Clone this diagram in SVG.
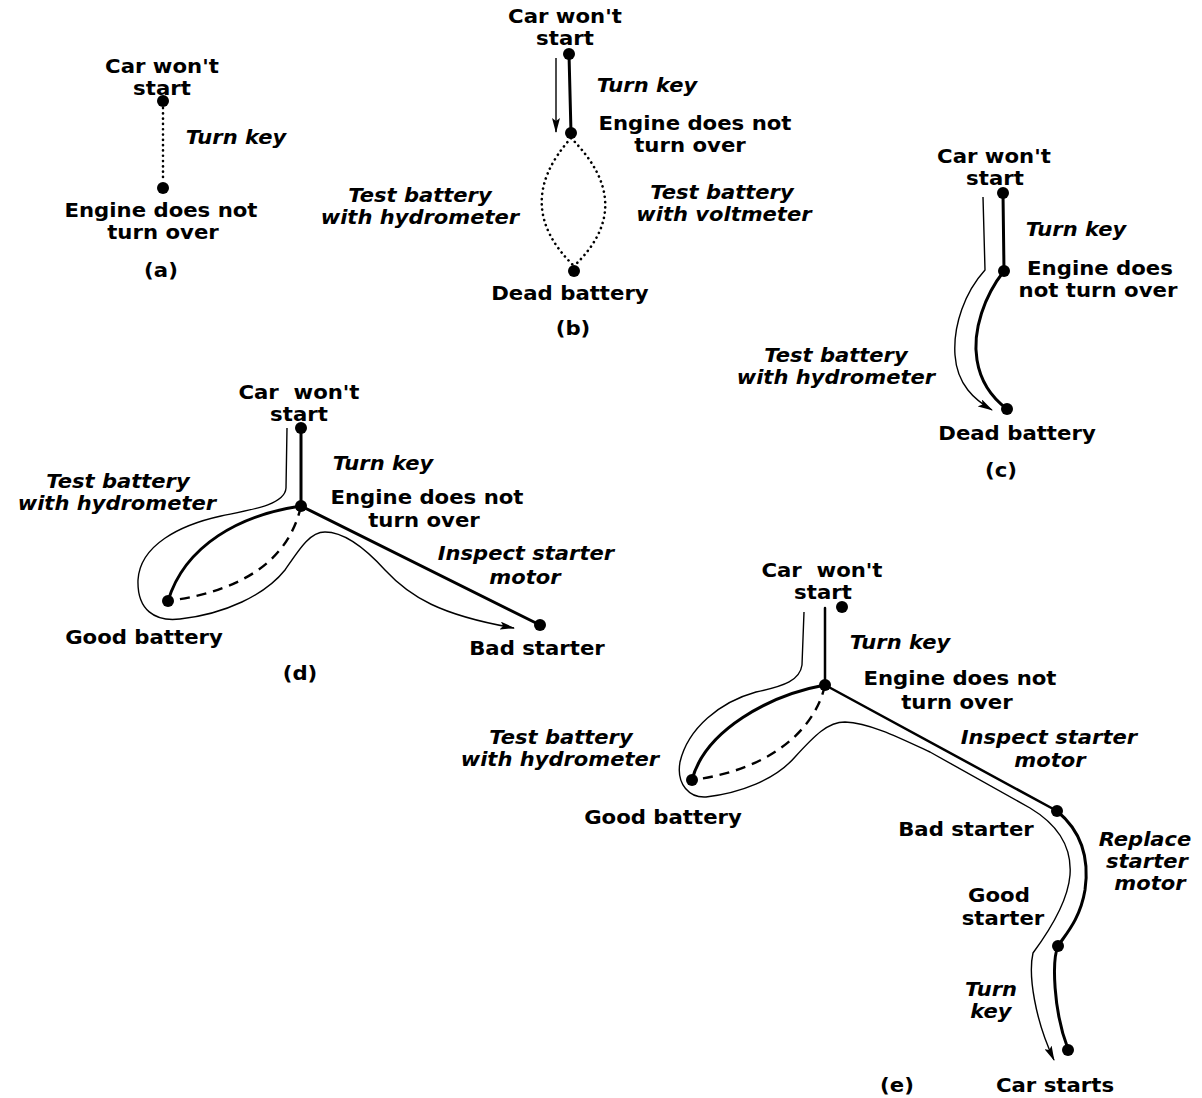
<svg xmlns="http://www.w3.org/2000/svg" width="1202" height="1098" viewBox="0 0 1202 1098">
<style>
text{font-family:"DejaVu Sans","Liberation Sans",sans-serif;font-weight:bold;font-size:18.8px;fill:#000;text-anchor:middle;transform-box:fill-box;transform-origin:center;transform:scaleX(1.13)}
text.i{font-style:italic;transform:scaleX(1.12)}
.dot{fill:#000}
.thick{fill:none;stroke:#000;stroke-width:3;stroke-linecap:round}
.med{fill:none;stroke:#000;stroke-width:2.5;stroke-linecap:round}
.thin{fill:none;stroke:#000;stroke-width:1.4}
.dotted{fill:none;stroke:#000;stroke-width:2.6;stroke-linecap:round;stroke-dasharray:0.1 5.2}
.dashed{fill:none;stroke:#000;stroke-width:2.4;stroke-dasharray:10 7}
.arr{marker-end:url(#ah)}
</style>
<defs>
<marker id="ah" viewBox="0 0 15 8" refX="14" refY="4" markerWidth="15" markerHeight="8" markerUnits="userSpaceOnUse" orient="auto">
<path d="M0,0 L15,4 L0,8 L3,4 Z" fill="#000"/>
</marker>
</defs>
<rect width="1202" height="1098" fill="#fff"/>

<!-- (a) -->
<g id="connectors-a">
<path class="dotted" d="M163,108 L163,182"/>
</g>
<g id="a-carwontstart"><circle class="dot" cx="163" cy="101" r="6"/><text x="162" y="73">Car won't</text><text x="162" y="95">start</text></g>
<g id="a-engine"><circle class="dot" cx="163" cy="188" r="6"/><text x="161" y="217">Engine does not</text><text x="163" y="239">turn over</text></g>
<g id="a-labels"><text class="i" x="236" y="144">Turn key</text><text x="161" y="277">(a)</text></g>

<!-- (b) -->
<g id="connectors-b">
<path class="thick" d="M569,54 L571,133"/>
<path class="thin arr" d="M556,58 L556,132"/>
<path class="dotted" d="M571,138 Q511,205 574,266"/>
<path class="dotted" d="M571,138 Q638,205 574,266"/>
</g>
<g id="b-carwontstart"><circle class="dot" cx="569" cy="54" r="6"/><text x="565" y="23">Car won't</text><text x="565" y="45">start</text></g>
<g id="b-engine"><circle class="dot" cx="571" cy="133" r="6"/><text x="695" y="130">Engine does not</text><text x="690" y="152">turn over</text></g>
<g id="b-dead"><circle class="dot" cx="574" cy="271" r="6"/><text x="570" y="300">Dead battery</text></g>
<g id="b-labels"><text class="i" x="420" y="202">Test battery</text><text class="i" x="420" y="224">with hydrometer</text>
<text class="i" x="647" y="92">Turn key</text>
<text class="i" x="722" y="199">Test battery</text><text class="i" x="724" y="221">with voltmeter</text>
<text x="573" y="335">(b)</text></g>

<!-- (c) -->
<g id="connectors-c">
<path class="thick" d="M1003,193 L1004,271"/>
<path class="thick" d="M1004,271 C985,295 972,330 977,360 C981,385 995,400 1007,409"/>
<path class="thin arr" d="M983,197 L985,270 C965,292 953,325 955,355 C957,385 975,400 992,410"/>
</g>
<g id="c-carwontstart"><circle class="dot" cx="1003" cy="193" r="6"/><text x="994" y="163">Car won't</text><text x="995" y="185">start</text></g>
<g id="c-engine"><circle class="dot" cx="1004" cy="271" r="6"/><text x="1100" y="275">Engine does</text><text x="1098" y="297">not turn over</text></g>
<g id="c-dead"><circle class="dot" cx="1007" cy="409" r="6"/><text x="1017" y="440">Dead battery</text></g>
<g id="c-labels"><text class="i" x="1076" y="236">Turn key</text>
<text class="i" x="836" y="362">Test battery</text><text class="i" x="836" y="384">with hydrometer</text>
<text x="1001" y="477">(c)</text></g>

<!-- (d) -->
<g id="connectors-d">
<path class="thick" d="M301,428 L301,506"/>
<path class="thick" d="M301,506 C240,515 185,545 168,601"/>
<path class="dashed" d="M301,506 C290,555 250,590 168,601"/>
<path class="thick" d="M301,506 L540,625"/>
<path class="thin arr" d="M287,428 L286,488 C285,505 250,510 221,516 C180,525 140,545 138,580 C137,610 155,622 180,619 C225,614 265,595 285,570 C300,548 310,532 325,532 C345,532 365,548 385,570 C410,597 440,615 514,628"/>
</g>
<g id="d-carwontstart"><circle class="dot" cx="301" cy="428" r="6"/><text x="299" y="399" xml:space="preserve">Car  won't</text><text x="299" y="421">start</text></g>
<g id="d-engine"><circle class="dot" cx="301" cy="506" r="6"/><text x="427" y="504">Engine does not</text><text x="424" y="527">turn over</text></g>
<g id="d-goodbattery"><circle class="dot" cx="168" cy="601" r="6"/><text x="144" y="644">Good battery</text></g>
<g id="d-badstarter"><circle class="dot" cx="540" cy="625" r="6"/><text x="537" y="655">Bad starter</text></g>
<g id="d-labels"><text class="i" x="383" y="470">Turn key</text>
<text class="i" x="118" y="488">Test battery</text><text class="i" x="117" y="510">with hydrometer</text>
<text class="i" x="526" y="560">Inspect starter</text><text class="i" x="525" y="584">motor</text>
<text x="300" y="680">(d)</text></g>

<!-- (e) -->
<g id="connectors-e">
<path class="med" d="M825,608 L825,685"/>
<path class="thick" d="M825,685 C770,695 705,730 692,780"/>
<path class="dashed" d="M825,685 C815,730 770,770 692,780"/>
<path class="med" d="M825,685 L1057,811"/>
<path class="thick" d="M1057,811 C1080,830 1090,855 1085,890 C1080,920 1065,935 1058,946"/>
<path class="thick" d="M1058,946 C1052,960 1053,1010 1068,1049"/>
<path class="thin arr" d="M804,612 L802,665 C800,680 785,686 756,692 C720,702 688,728 680,762 C676,785 690,798 706,797 C740,793 775,780 795,757 C815,735 828,722 845,722 C870,723 900,738 930,752 L1030,808 C1060,826 1072,848 1070,875 C1068,900 1050,930 1033,953 C1028,975 1035,1020 1054,1060"/>
</g>
<g id="e-carwontstart"><circle class="dot" cx="842" cy="607" r="6"/><text x="822" y="577" xml:space="preserve">Car  won't</text><text x="823" y="599">start</text></g>
<g id="e-engine"><circle class="dot" cx="825" cy="685" r="6"/><text x="960" y="685">Engine does not</text><text x="957" y="709">turn over</text></g>
<g id="e-goodbattery"><circle class="dot" cx="692" cy="780" r="6"/><text x="663" y="824">Good battery</text></g>
<g id="e-badstarter"><circle class="dot" cx="1057" cy="811" r="6"/><text x="966" y="836">Bad starter</text></g>
<g id="e-goodstarter"><circle class="dot" cx="1058" cy="946" r="6"/><text x="999" y="902">Good</text><text x="1003" y="925">starter</text></g>
<g id="e-carstarts"><circle class="dot" cx="1068" cy="1050" r="6"/><text x="1055" y="1092">Car starts</text></g>
<g id="e-labels"><text class="i" x="900" y="649">Turn key</text>
<text class="i" x="561" y="744">Test battery</text><text class="i" x="560" y="766">with hydrometer</text>
<text class="i" x="1049" y="744">Inspect starter</text><text class="i" x="1050" y="767">motor</text>
<text class="i" x="1145" y="846">Replace</text><text class="i" x="1147" y="868">starter</text><text class="i" x="1150" y="890">motor</text>
<text class="i" x="991" y="996">Turn</text><text class="i" x="991" y="1018">key</text>
<text x="897" y="1092">(e)</text></g>
</svg>
